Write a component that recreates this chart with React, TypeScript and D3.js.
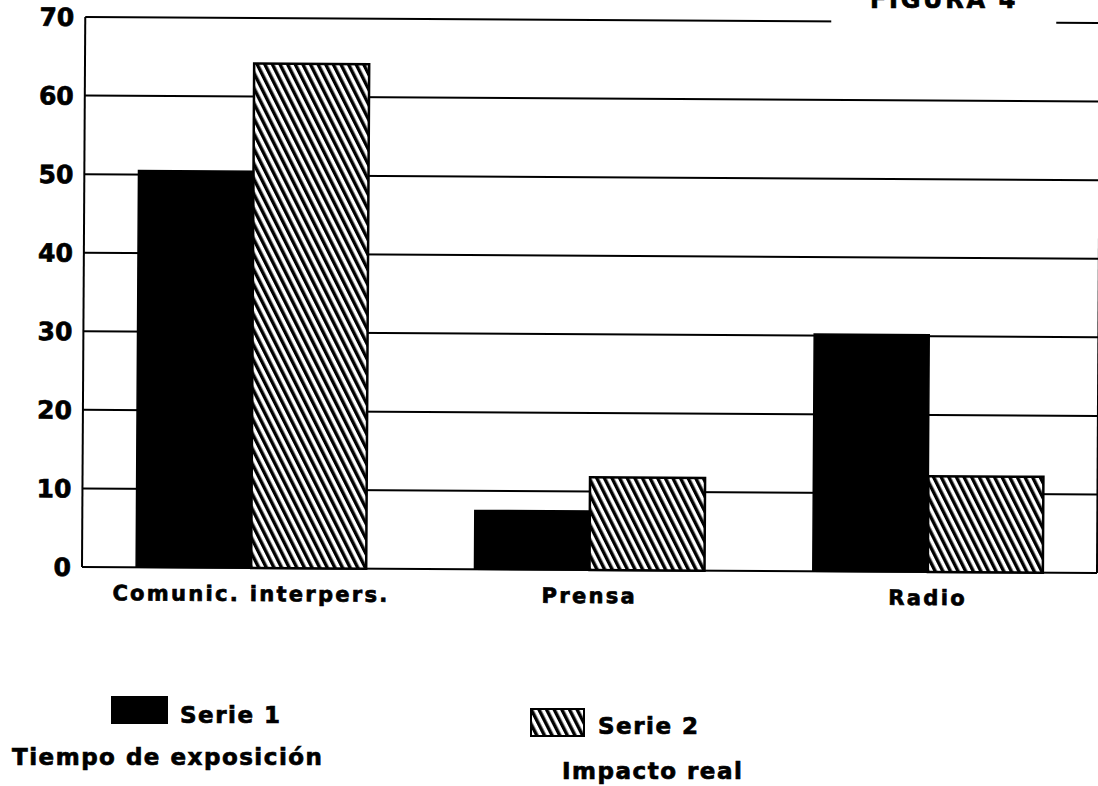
import React, { useEffect, useRef } from 'react';
import * as d3 from 'd3';

const categories = ['Comunic. interpers.', 'Prensa', 'Radio'];
const serie1 = [50.5, 7.5, 30.2];
const serie2 = [64.2, 11.8, 12.2];
const seriesNames = ['Serie 1', 'Serie 2'];
const seriesSubtitles = ['Tiempo de exposición', 'Impacto real'];
const yTicks = [0, 10, 20, 30, 40, 50, 60, 70];

const FONT = '"DejaVu Sans", Verdana, sans-serif';

const App = () => {
  const ref = useRef<SVGSVGElement>(null);

  const width = 1098;
  const height = 786;
  const margin = { top: 17, right: 1, bottom: 219, left: 82 };

  useEffect(() => {
    const svg = d3.select(ref.current);
    svg.selectAll('*').remove();

    // hatch pattern for serie 2
    svg
      .append('defs')
      .append('pattern')
      .attr('id', 'hatch')
      .attr('patternUnits', 'userSpaceOnUse')
      .attr('width', 6.8)
      .attr('height', 20)
      .attr('patternTransform', 'rotate(-27)')
      .append('rect')
      .attr('width', 3.4)
      .attr('height', 20)
      .attr('fill', '#000');

    const x0 = d3
      .scaleBand()
      .domain(categories)
      .range([margin.left, width - margin.right])
      .paddingInner(0.32)
      .paddingOuter(0.16);

    const x1 = d3
      .scaleBand()
      .domain(['s1', 's2'])
      .range([0, x0.bandwidth()]);

    const y = d3
      .scaleLinear()
      .domain([0, 70])
      .range([height - margin.bottom, margin.top]);

    // heavy print look for every label
    const label = (sel, size, spacing = 0) =>
      sel
        .attr('font-family', FONT)
        .attr('font-weight', 'bold')
        .attr('font-size', size)
        .attr('letter-spacing', spacing)
        .attr('fill', '#000')
        .attr('stroke', '#000')
        .attr('stroke-width', 0.7);

    // the scanned page is slightly tilted
    const g = svg
      .append('g')
      .attr('transform', `rotate(0.34, ${margin.left}, ${y(0)})`);

    // grid lines
    g.selectAll('.grid')
      .data(yTicks)
      .enter()
      .append('line')
      .attr('x1', margin.left)
      .attr('x2', width - margin.right)
      .attr('y1', (d) => y(d))
      .attr('y2', (d) => y(d))
      .attr('stroke', '#000')
      .attr('stroke-width', 2);

    // gap in the top line where the title sits
    g.append('rect')
      .attr('x', 828)
      .attr('y', y(70) - 3)
      .attr('width', 225)
      .attr('height', 6)
      .attr('fill', '#fff');

    // frame
    [margin.left, width - margin.right].forEach((xv) => {
      g.append('line')
        .attr('x1', xv)
        .attr('x2', xv)
        .attr('y1', y(70))
        .attr('y2', y(0))
        .attr('stroke', '#000')
        .attr('stroke-width', 2);
    });

    // y tick labels
    label(
      g.selectAll('.ytick')
        .data(yTicks)
        .enter()
        .append('text')
        .attr('x', margin.left - 11)
        .attr('y', (d) => y(d) + 9)
        .attr('text-anchor', 'end'),
      25
    ).text((d) => d);

    const groups = g
      .selectAll('.group')
      .data(categories)
      .enter()
      .append('g')
      .attr('transform', (d) => `translate(${x0(d)},0)`);

    groups
      .append('rect')
      .attr('x', x1('s1'))
      .attr('width', x1.bandwidth())
      .attr('y', (_, i) => y(serie1[i]))
      .attr('height', (_, i) => y(0) - y(serie1[i]))
      .attr('fill', '#000')
      .attr('stroke', '#000')
      .attr('stroke-width', 1.5);

    groups
      .append('rect')
      .attr('x', x1('s2'))
      .attr('width', x1.bandwidth())
      .attr('y', (_, i) => y(serie2[i]))
      .attr('height', (_, i) => y(0) - y(serie2[i]))
      .attr('fill', '#fff');

    groups
      .append('rect')
      .attr('x', x1('s2'))
      .attr('width', x1.bandwidth())
      .attr('y', (_, i) => y(serie2[i]))
      .attr('height', (_, i) => y(0) - y(serie2[i]))
      .attr('fill', 'url(#hatch)')
      .attr('stroke', '#000')
      .attr('stroke-width', 2.5);

    // category labels
    label(
      groups
        .append('text')
        .attr('x', x0.bandwidth() / 2)
        .attr('y', y(0) + 33)
        .attr('text-anchor', 'middle'),
      21,
      2.3
    ).text((d) => d);

    // title, cut at the top edge of the page
    label(svg.append('text').attr('x', 870).attr('y', 8), 24, 2.7).text('FIGURA 4');

    // legend
    const legend = [
      { sx: 112, sy: 697, sw: 55, sh: 26, tx: 180, ty: 723, subx: 12, suby: 765, fill: '#000' },
      { sx: 531, sy: 709, sw: 53, sh: 27, tx: 598, ty: 734, subx: 562, suby: 779, fill: 'url(#hatch)' },
    ];
    legend.forEach((l, i) => {
      svg.append('rect')
        .attr('x', l.sx)
        .attr('y', l.sy)
        .attr('width', l.sw)
        .attr('height', l.sh)
        .attr('fill', '#fff');
      svg.append('rect')
        .attr('x', l.sx)
        .attr('y', l.sy)
        .attr('width', l.sw)
        .attr('height', l.sh)
        .attr('fill', l.fill)
        .attr('stroke', '#000')
        .attr('stroke-width', 2);
      label(svg.append('text').attr('x', l.tx).attr('y', l.ty), 23, 1.5).text(seriesNames[i]);
      label(svg.append('text').attr('x', l.subx).attr('y', l.suby), 23, 1.5).text(seriesSubtitles[i]);
    });
  }, []);

  return (
    <svg
      ref={ref}
      width={width}
      height={height}
      style={{ position: 'absolute', top: 0, left: 0, background: '#fff' }}
    />
  );
};

export default App;
